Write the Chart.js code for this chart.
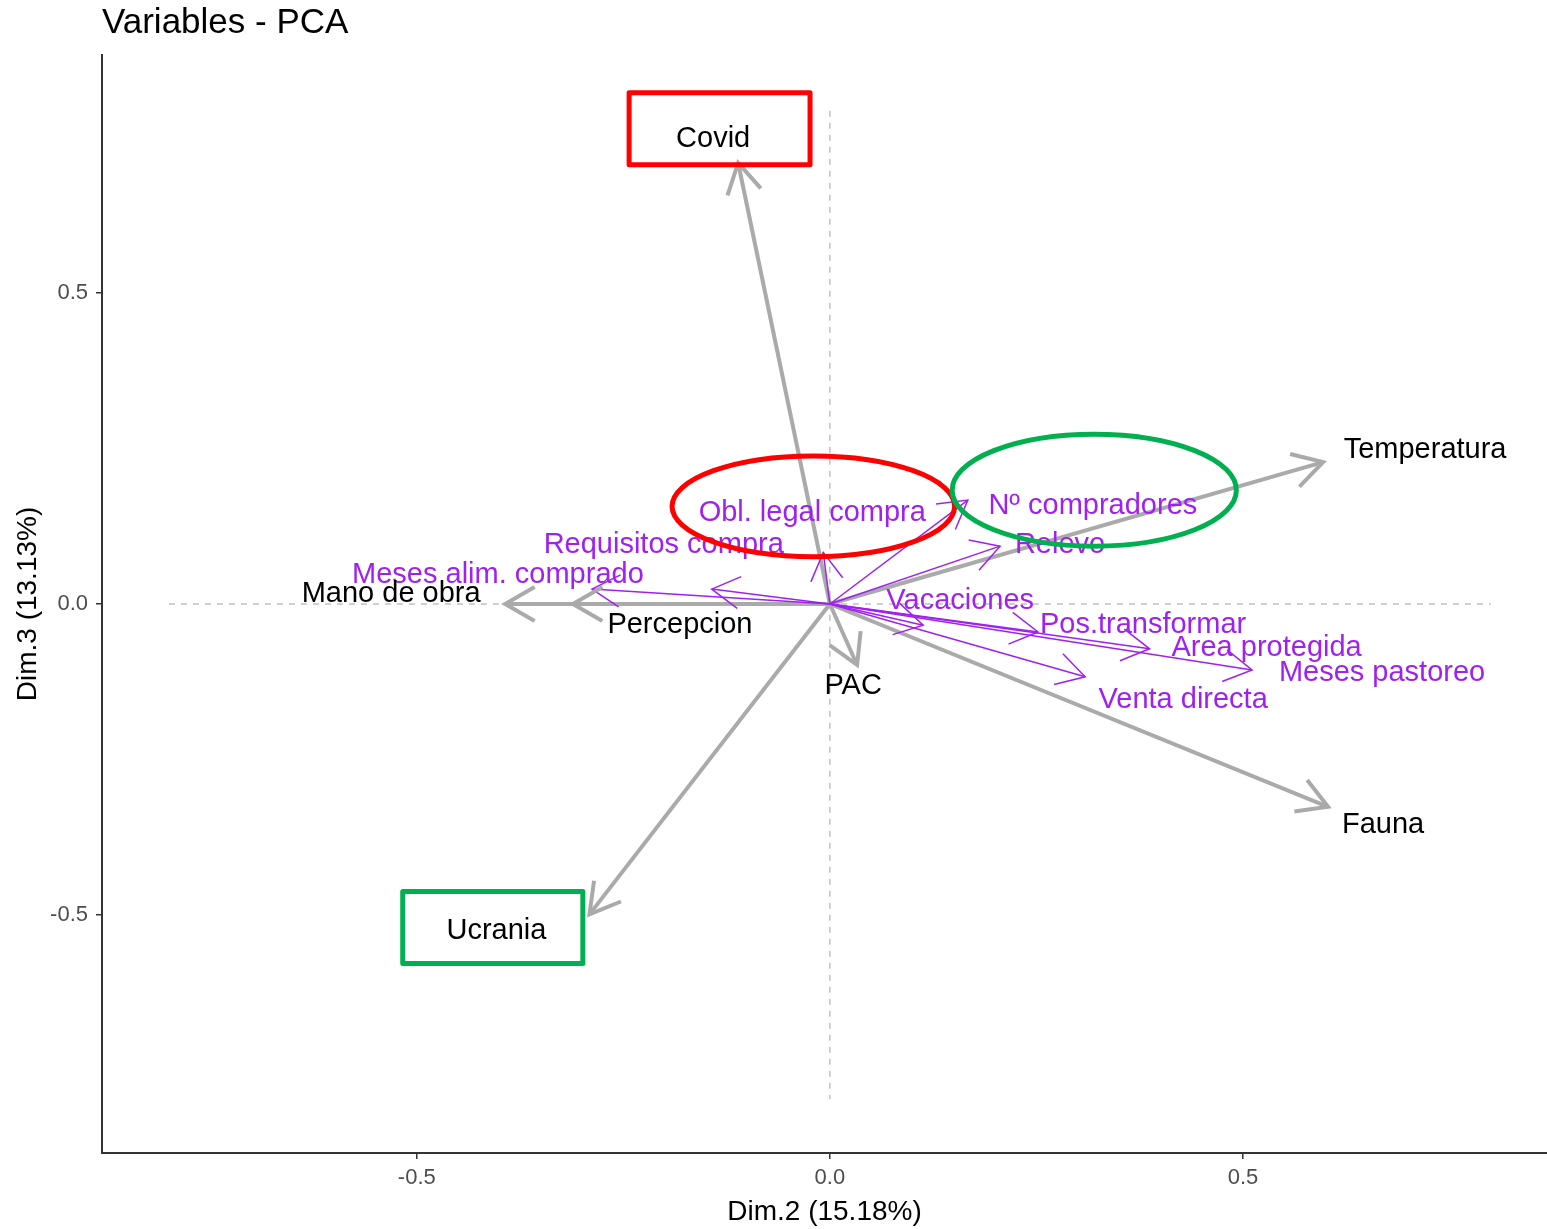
<!DOCTYPE html>
<html>
<head>
<meta charset="utf-8">
<script src="https://cdn.jsdelivr.net/npm/chart.js@4.4.0/dist/chart.umd.min.js"></script>
<style>
    html, body { margin: 0; padding: 0; background: #ffffff; }
</style>
</head>
<body>
<canvas id="pcaChart" width="1547" height="1229"></canvas>
<script>
// Variables activas (flechas grises)
const activeNames = ['Covid', 'Temperatura', 'Fauna', 'Ucrania', 'Mano de obra', 'Percepcion', 'PAC'];
const activeDim2 = [-0.111, 0.597, 0.603, -0.291, -0.393, -0.311, 0.033];
const activeDim3 = [0.709, 0.228, -0.326, -0.499, 0.000, 0.000, -0.098];

// Variables suplementarias (flechas moradas)
const suppNames = ['Obl. legal compra', 'Requisitos compra', 'Meses alim. comprado', 'Nº compradores', 'Relevo',
    'Vacaciones', 'Pos.transformar', 'Area protegida', 'Meses pastoreo', 'Venta directa'];
const suppDim2 = [-0.008, -0.143, -0.288, 0.167, 0.206, 0.113, 0.252, 0.387, 0.511, 0.309];
const suppDim3 = [0.083, 0.024, 0.024, 0.167, 0.093, -0.034, -0.045, -0.072, -0.106, -0.117];

const axisTicks = [-0.5, 0, 0.5];

// desplazamiento de las etiquetas respecto a la punta (px)
const labelShift = {
    'Covid': [-25, -24], 'Temperatura': [102, -12], 'Fauna': [55, 18], 'Ucrania': [-93, 17],
    'Mano de obra': [-114, -10], 'Percepcion': [107, 21], 'PAC': [-4, 21],
    'Obl. legal compra': [-11, -39], 'Requisitos compra': [-48, -44], 'Meses alim. comprado': [-94, -14],
    'Nº compradores': [125, 6], 'Relevo': [60, -1], 'Vacaciones': [37, -24], 'Pos.transformar': [105, -7],
    'Area protegida': [117, -1], 'Meses pastoreo': [130, 3], 'Venta directa': [98, 23]
};

const GREY = '#aaaaaa';
const PURPLE = '#a020f0';
const FONT = "'Liberation Sans', Arial, sans-serif";

// marcas añadidas a mano sobre el gráfico
const highlights = [
    { type: 'rect', x0: -0.243, x1: -0.024, y0: 0.822, y1: 0.706, color: '#ff0000' },
    { type: 'rect', x0: -0.517, x1: -0.299, y0: -0.462, y1: -0.578, color: '#00b050' },
    { type: 'ellipse', cx: -0.020, cy: 0.157, rx: 0.171, ry: 0.081, color: '#ff0000' },
    { type: 'ellipse', cx: 0.320, cy: 0.183, rx: 0.172, ry: 0.090, color: '#00b050' }
];

function buildDatasets(names, xs, ys, color, width, order) {
    return names.map((name, i) => ({
        label: name,
        data: [{ x: 0, y: 0 }, { x: xs[i], y: ys[i] }],
        showLine: true,
        borderColor: color,
        borderWidth: width,
        pointRadius: 0,
        order: order,
        varColor: color,
        textColor: color === GREY ? '#000000' : color
    }));
}

const arrowPlugin = {
    id: 'arrows',
    beforeDatasetsDraw(chart) {
        const ctx = chart.ctx;
        const xs = chart.scales.x, ys = chart.scales.y;
        ctx.save();
        ctx.strokeStyle = '#c0c0c0';
        ctx.lineWidth = 1.5;
        ctx.setLineDash([6, 6]);
        ctx.beginPath();
        ctx.moveTo(xs.getPixelForValue(-0.80), ys.getPixelForValue(0));
        ctx.lineTo(xs.getPixelForValue(0.80), ys.getPixelForValue(0));
        ctx.moveTo(xs.getPixelForValue(0), ys.getPixelForValue(0.793));
        ctx.lineTo(xs.getPixelForValue(0), ys.getPixelForValue(-0.796));
        ctx.stroke();
        ctx.restore();
    },
    afterDatasetsDraw(chart) {
        const ctx = chart.ctx;
        ctx.save();
        // puntas de flecha
        chart.data.datasets.forEach((ds, i) => {
            const pts = chart.getDatasetMeta(i).data;
            const o = pts[0], p = pts[1];
            const ang = Math.atan2(p.y - o.y, p.x - o.x);
            const len = ds.varColor === GREY ? 34 : 32;
            ctx.strokeStyle = ds.varColor;
            ctx.lineWidth = ds.borderWidth;
            ctx.beginPath();
            ctx.moveTo(p.x - len * Math.cos(ang - Math.PI / 6), p.y - len * Math.sin(ang - Math.PI / 6));
            ctx.lineTo(p.x, p.y);
            ctx.lineTo(p.x - len * Math.cos(ang + Math.PI / 6), p.y - len * Math.sin(ang + Math.PI / 6));
            ctx.stroke();
        });
        // etiquetas
        ctx.font = '29px ' + FONT;
        ctx.textAlign = 'center';
        ctx.textBaseline = 'middle';
        chart.data.datasets.forEach((ds, i) => {
            const p = chart.getDatasetMeta(i).data[1];
            const s = labelShift[ds.label] || [0, 0];
            ctx.fillStyle = ds.textColor;
            ctx.fillText(ds.label, p.x + s[0], p.y + s[1]);
        });
        ctx.restore();
    },
    afterDraw(chart) {
        const ctx = chart.ctx;
        const xs = chart.scales.x, ys = chart.scales.y;
        ctx.save();
        ctx.lineWidth = 5;
        highlights.forEach(h => {
            ctx.strokeStyle = h.color;
            ctx.beginPath();
            if (h.type === 'rect') {
                const x0 = xs.getPixelForValue(h.x0), x1 = xs.getPixelForValue(h.x1);
                const y0 = ys.getPixelForValue(h.y0), y1 = ys.getPixelForValue(h.y1);
                ctx.lineJoin = 'round';
                ctx.rect(x0, y0, x1 - x0, y1 - y0);
            } else {
                const cx = xs.getPixelForValue(h.cx), cy = ys.getPixelForValue(h.cy);
                const rx = xs.getPixelForValue(h.cx + h.rx) - cx;
                const ry = cy - ys.getPixelForValue(h.cy + h.ry);
                ctx.ellipse(cx, cy, rx, ry, 0, 0, Math.PI * 2);
            }
            ctx.stroke();
        });
        // título
        ctx.fillStyle = '#000000';
        ctx.font = '35px ' + FONT;
        ctx.textAlign = 'left';
        ctx.textBaseline = 'middle';
        ctx.fillText('Variables - PCA', 102, 23);
        ctx.restore();
    }
};

const tickFont = { family: FONT, size: 22 };
const titleFont = { family: FONT, size: 28 };

const pcaChart = new Chart(document.getElementById('pcaChart').getContext('2d'), {
    type: 'scatter',
    data: {
        datasets: buildDatasets(suppNames, suppDim2, suppDim3, PURPLE, 1.5, 0)
            .concat(buildDatasets(activeNames, activeDim2, activeDim3, GREY, 4, 1))
    },
    options: {
        responsive: false,
        animation: false,
        layout: { padding: { top: 55, left: 0, right: 0, bottom: 0 } },
        plugins: {
            legend: { display: false },
            tooltip: { enabled: false }
        },
        scales: {
            x: {
                type: 'linear',
                min: -0.881,
                max: 0.868,
                afterBuildTicks: s => { s.ticks = axisTicks.map(v => ({ value: v })); },
                afterFit: s => { s.height = 76; },
                ticks: { callback: v => v.toFixed(1), color: '#4d4d4d', font: tickFont, padding: 6, maxRotation: 0 },
                grid: { display: true, drawOnChartArea: false, drawTicks: true, tickLength: 6, color: '#333333', lineWidth: 1.5 },
                border: { display: true, color: '#333333', width: 2 },
                title: { display: true, text: 'Dim.2 (15.18%)', color: '#000000', font: titleFont, padding: { top: 0, bottom: 0 } }
            },
            y: {
                type: 'linear',
                min: -0.8826,
                max: 0.8826,
                afterBuildTicks: s => { s.ticks = axisTicks.map(v => ({ value: v })); },
                afterFit: s => { s.width = 102; },
                ticks: { callback: v => v.toFixed(1), color: '#4d4d4d', font: tickFont, padding: 8 },
                grid: { display: true, drawOnChartArea: false, drawTicks: true, tickLength: 6, color: '#333333', lineWidth: 1.5 },
                border: { display: true, color: '#333333', width: 2 },
                title: { display: true, text: 'Dim.3 (13.13%)', color: '#000000', font: titleFont, padding: { top: 11, bottom: 0 } }
            }
        }
    },
    plugins: [arrowPlugin]
});
</script>
</body>
</html>
